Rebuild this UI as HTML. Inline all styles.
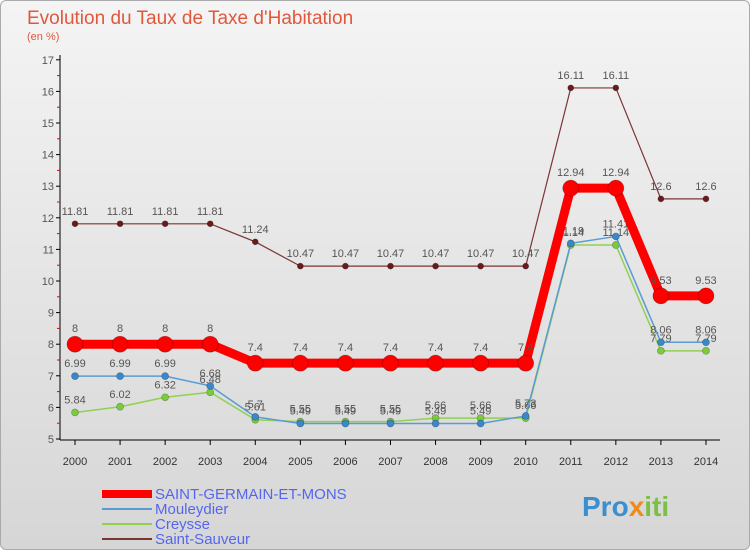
<!DOCTYPE html>
<html><head><meta charset="utf-8"><style>
body{margin:0;width:750px;height:550px;overflow:hidden;font-family:"Liberation Sans",sans-serif}
#wrap{position:absolute;left:0;top:0;width:748px;height:548px;border:1px solid #aaa;border-radius:6px;background:linear-gradient(#f4f4f4,#d6d6d6)}
</style></head><body>
<div id="wrap">
<svg id="svg" width="750" height="550" style="position:absolute;left:-1px;top:-1px">
<text x="27" y="24" font-size="19" fill="#e0583c">Evolution du Taux de Taxe d'Habitation</text>
<text x="27" y="40" font-size="11" fill="#e0583c">(en %)</text>
<g id="axes"></g><g id="series"></g>
<g>
<line x1="102" y1="494" x2="152" y2="494" stroke="#f00" stroke-width="8"/>
<text x="155" y="499" font-size="15" fill="#5566ee">SAINT-GERMAIN-ET-MONS</text>
<line x1="102" y1="509" x2="152" y2="509" stroke="#5b9bd5" stroke-width="2"/>
<text x="155" y="514" font-size="15" fill="#5566ee">Mouleydier</text>
<line x1="102" y1="524" x2="152" y2="524" stroke="#92d050" stroke-width="2"/>
<text x="155" y="529" font-size="15" fill="#5566ee">Creysse</text>
<line x1="102" y1="539" x2="152" y2="539" stroke="#7b3535" stroke-width="2"/>
<text x="155" y="544" font-size="15" fill="#5566ee">Saint-Sauveur</text>
</g>
<text x="582" y="516" font-size="28" font-weight="bold" fill="#3a8fd0">Pro<tspan fill="#f08a1c">x</tspan><tspan fill="#7ac143">iti</tspan></text>
</svg></div>
<script>
const years=[2000,2001,2002,2003,2004,2005,2006,2007,2008,2009,2010,2011,2012,2013,2014];
const yTicks=[5,6,7,8,9,10,11,12,13,14,15,16,17];
const sgm=[8,8,8,8,7.4,7.4,7.4,7.4,7.4,7.4,7.4,12.94,12.94,9.53,9.53];
const mouleydier=[6.99,6.99,6.99,6.68,5.7,5.49,5.49,5.49,5.49,5.49,5.73,11.19,11.41,8.06,8.06];
const creysse=[5.84,6.02,6.32,6.48,5.61,5.55,5.55,5.55,5.66,5.66,5.66,11.14,11.14,7.79,7.79];
const sauveur=[11.81,11.81,11.81,11.81,11.24,10.47,10.47,10.47,10.47,10.47,10.47,16.11,16.11,12.6,12.6];
const NS="http://www.w3.org/2000/svg";
const X=i=>75+i*45.07, Y=v=>439-(v-5)*31.6;
function mk(p,t,a){const e=document.createElementNS(NS,t);for(const k in a)e.setAttribute(k,a[k]);p.appendChild(e);return e;}
const ax=document.getElementById('axes'), sg=document.getElementById('series');
let l=mk(ax,'line',{x1:60,y1:55,x2:60,y2:440,stroke:'#000'});

l=mk(ax,'line',{x1:60,y1:440,x2:720,y2:440,stroke:'#000'});

yTicks.forEach(v=>{mk(ax,'line',{x1:56,y1:Y(v),x2:60,y2:Y(v),stroke:'#000'});
 if(v<17)mk(ax,'line',{x1:57,y1:Y(v+0.5),x2:60,y2:Y(v+0.5),stroke:'#e00'});
 const t=mk(ax,'text',{x:54,y:Y(v)+4,'font-size':11,'text-anchor':'end',fill:'#555'});t.textContent=v;
 });
years.forEach((yr,i)=>{mk(ax,'line',{x1:X(i),y1:440,x2:X(i),y2:445,stroke:'#000'});
 const t=mk(ax,'text',{x:X(i),y:465,'font-size':11,'text-anchor':'middle',fill:'#333'});t.textContent=yr;
 });
function series(d,name,col,w,r,dotCol,off){
 const g=mk(sg,'g',{});
 const p=mk(g,'polyline',{points:d.map((v,i)=>X(i)+','+Y(v)).join(' '),fill:'none',stroke:col,'stroke-width':w,'stroke-linejoin':'round'});
 
 d.forEach((v,i)=>{const c=mk(g,'circle',{cx:X(i),cy:Y(v),r:r,fill:dotCol,stroke:'rgba(0,0,0,0.3)','stroke-width':0.7});
  
  const t=mk(g,'text',{x:X(i),y:Y(v)-off,'font-size':11,'text-anchor':'middle',fill:'#555'});t.textContent=String(v);
  });
}
series(sauveur,'saint-sauveur','#7b3535',1.2,3,'#6a1a1a',9);
series(creysse,'creysse','#92d050',1.5,3.5,'#7acc3a',9);
series(mouleydier,'mouleydier','#5b9bd5',1.5,3.5,'#3a88cc',9);
series(sgm,'saint-germain','#f00',9,8,'#f00',12);
</script></body></html>
